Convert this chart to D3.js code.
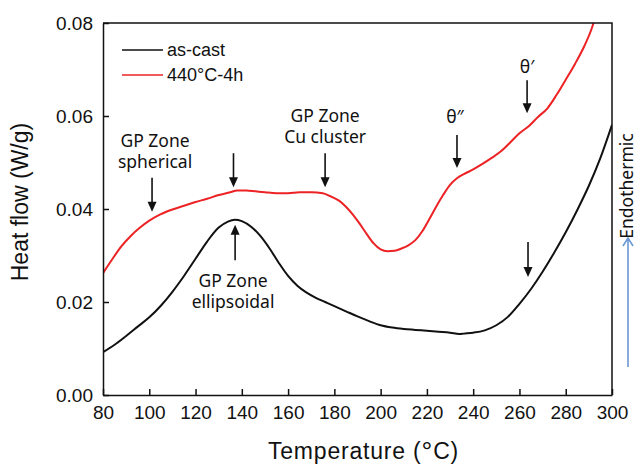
<!DOCTYPE html>
<html>
<head>
<meta charset="utf-8">
<script src="https://cdn.jsdelivr.net/npm/d3@7"></script>
<style>
  body { margin: 0; background: #fff; }
  svg { display: block; }
  .axis text { font-family: 'Liberation Sans', Arial, sans-serif; font-size: 19px; fill: #111; }
  .axis path, .axis line { stroke: #111; stroke-width: 1.5; }
  .title { font-family: 'Liberation Sans', Arial, sans-serif; font-size: 23px; fill: #111; }
  .legend { font-family: 'Liberation Sans', Arial, sans-serif; font-size: 18px; fill: #111; }
  .note { font-family: 'Noto Sans', sans-serif; font-size: 17.5px; fill: #111; }
</style>
</head>
<body>
<div id="vis"></div>
<script>
const FRAME_WIDTH = 638;
const FRAME_HEIGHT = 469;
const MARGINS = { left: 103, right: 26, top: 23, bottom: 74 };

// as-cast curve
const asCastTemp = [80, 85, 90, 95, 100, 105, 110, 115, 120, 125, 130, 134, 137, 140, 144, 148, 152, 156, 160,
  164, 168, 172, 176, 180, 185, 190, 195, 200, 205, 210, 215, 220, 225, 230, 234, 236, 240, 245, 250, 255, 260,
  265, 270, 275, 280, 285, 290, 295, 300];
const asCastFlow = [0.0092, 0.0108, 0.0127, 0.0147, 0.0167, 0.0192, 0.0222, 0.0256, 0.0293, 0.0330, 0.0360,
  0.0373, 0.0377, 0.0374, 0.0362, 0.0342, 0.0315, 0.0284, 0.0256, 0.0235, 0.0220, 0.0209, 0.0200, 0.0191,
  0.0180, 0.0169, 0.0159, 0.0150, 0.0145, 0.0142, 0.0140, 0.0138, 0.0136, 0.0134, 0.0131, 0.0132, 0.0134,
  0.0139, 0.0150, 0.0168, 0.0196, 0.0228, 0.0265, 0.0306, 0.0350, 0.0398, 0.0450, 0.0510, 0.0581];

// 440C-4h curve
const agedTemp = [80, 84, 88, 92, 96, 100, 105, 110, 115, 120, 125, 130, 135, 138, 142, 146, 150, 155, 160, 165,
  170, 175, 178, 182, 185, 188, 191, 194, 197, 200, 203, 206, 209, 212, 215, 218, 221, 224, 227, 230, 233, 236,
  240, 244, 248, 252, 256, 260, 264, 268, 272, 276, 280, 284, 288, 291, 293];
const agedFlow = [0.0262, 0.0292, 0.0320, 0.0342, 0.0360, 0.0375, 0.0389, 0.0399, 0.0407, 0.0415, 0.0422,
  0.0430, 0.0436, 0.0440, 0.0440, 0.0438, 0.0436, 0.0434, 0.0434, 0.0436, 0.0436, 0.0434, 0.0428, 0.0418,
  0.0405, 0.0388, 0.0368, 0.0346, 0.0326, 0.0313, 0.0309, 0.0310, 0.0315, 0.0322, 0.0333, 0.0352, 0.0378,
  0.0405, 0.0430, 0.0452, 0.0466, 0.0475, 0.0485, 0.0497, 0.0510, 0.0524, 0.0543, 0.0563, 0.0578, 0.0598,
  0.0616, 0.0645, 0.0678, 0.0712, 0.0750, 0.0785, 0.0815];

const xTicks = [80, 100, 120, 140, 160, 180, 200, 220, 240, 260, 280, 300];
const yTicks = [0, 0.02, 0.04, 0.06, 0.08];

const seriesNames = ['as-cast', '440°C-4h'];
const seriesColors = ['#111111', '#ec2224'];

// arrows: temperature, tail flow, head flow
const arrowTemp = [101.2, 136.4, 137.1, 176, 233, 263.3, 263.7];
const arrowFrom = [0.0467, 0.0520, 0.0290, 0.0520, 0.0559, 0.0677, 0.0329];
const arrowTo = [0.0394, 0.0447, 0.0366, 0.0447, 0.0488, 0.0606, 0.0254];

// labels: temperature, flow (first line centre), lines
const noteTemp = [102.5, 136.2, 176, 232.1, 263.3];
const noteFlow = [0.0546, 0.0245, 0.0600, 0.0598, 0.0705];
const noteText = [['GP Zone', 'spherical'], ['GP Zone', 'ellipsoidal'], ['GP Zone', 'Cu cluster'], ['θ″'], ['θ′']];

function buildChart() {
  const VIS_WIDTH = FRAME_WIDTH - MARGINS.left - MARGINS.right;
  const VIS_HEIGHT = FRAME_HEIGHT - MARGINS.top - MARGINS.bottom;

  const FRAME = d3.select('#vis')
    .append('svg')
    .attr('width', FRAME_WIDTH)
    .attr('height', FRAME_HEIGHT);

  const X_SCALE = d3.scaleLinear().domain([80, 300]).range([0, VIS_WIDTH]);
  const Y_SCALE = d3.scaleLinear().domain([0, 0.08]).range([VIS_HEIGHT, 0]);

  const G = FRAME.append('g')
    .attr('transform', 'translate(' + MARGINS.left + ',' + MARGINS.top + ')');

  G.append('clipPath').attr('id', 'clip')
    .append('rect').attr('width', VIS_WIDTH).attr('height', VIS_HEIGHT);

  // curves
  const line = d3.line()
    .x((d) => X_SCALE(d[0]))
    .y((d) => Y_SCALE(d[1]))
    .curve(d3.curveMonotoneX);

  const series = [d3.zip(asCastTemp, asCastFlow), d3.zip(agedTemp, agedFlow)];

  G.append('g').attr('clip-path', 'url(#clip)')
    .selectAll('path')
    .data(series)
    .enter()
    .append('path')
    .attr('d', line)
    .attr('fill', 'none')
    .attr('stroke', (d, i) => seriesColors[i])
    .attr('stroke-width', 2);

  // axes, ticks pointing inward
  G.append('g')
    .attr('class', 'axis')
    .attr('transform', 'translate(0,' + VIS_HEIGHT + ')')
    .call(d3.axisBottom(X_SCALE).tickValues(xTicks).tickSizeInner(-6).tickSizeOuter(0).tickPadding(11));

  G.append('g')
    .attr('class', 'axis')
    .call(d3.axisLeft(Y_SCALE).tickValues(yTicks).tickFormat(d3.format('.2f'))
      .tickSizeInner(-6).tickSizeOuter(0).tickPadding(10));

  // top and right border
  G.append('path')
    .attr('d', 'M0,0H' + VIS_WIDTH + 'V' + VIS_HEIGHT)
    .attr('fill', 'none')
    .attr('stroke', '#111')
    .attr('stroke-width', 1.5);

  // axis titles
  const xTitle = FRAME.append('text')
    .attr('class', 'title')
    .attr('x', MARGINS.left + X_SCALE(192.6))
    .attr('y', 459)
    .attr('letter-spacing', '0.8px')
    .attr('text-anchor', 'middle');
  xTitle.append('tspan').text('Temperature (');
  xTitle.append('tspan').attr('font-size', '27px').attr('dy', 2).text('°');
  xTitle.append('tspan').attr('dy', -2).text('C)');

  FRAME.append('text')
    .attr('class', 'title')
    .attr('transform', 'translate(28,' + (MARGINS.top + Y_SCALE(0.0415)) + ') rotate(-90)')
    .attr('text-anchor', 'middle')
    .attr('font-size', '24px')
    .text('Heat flow (W/g)');

  // legend
  const legend = G.append('g').selectAll('g')
    .data(seriesNames)
    .enter()
    .append('g')
    .attr('transform', (d, i) => 'translate(19,' + (27 + i * 25) + ')');
  legend.append('line')
    .attr('x1', 0).attr('x2', 41)
    .attr('stroke', (d, i) => seriesColors[i])
    .attr('stroke-width', 1.6);
  legend.append('text')
    .attr('class', 'legend')
    .attr('x', 45)
    .attr('dy', '0.35em')
    .text((d) => d);

  // arrows
  arrowTemp.forEach((t, i) => {
    const x = X_SCALE(t);
    const y1 = Y_SCALE(arrowFrom[i]);
    const y2 = Y_SCALE(arrowTo[i]);
    const dir = y2 > y1 ? 1 : -1;
    G.append('line')
      .attr('x1', x).attr('x2', x)
      .attr('y1', y1).attr('y2', y2 - dir * 8)
      .attr('stroke', '#111')
      .attr('stroke-width', 1.6);
    G.append('path')
      .attr('d', 'M' + (x - 4.5) + ',' + (y2 - dir * 10) + 'L' + (x + 4.5) + ',' + (y2 - dir * 10) + 'L' + x + ',' + y2 + 'Z')
      .attr('fill', '#111');
  });

  // annotation labels
  noteText.forEach((lines, i) => {
    const text = G.append('text')
      .attr('class', 'note')
      .attr('x', X_SCALE(noteTemp[i]))
      .attr('y', Y_SCALE(noteFlow[i]))
      .attr('text-anchor', 'middle');
    lines.forEach((s, j) => {
      text.append('tspan')
        .attr('x', X_SCALE(noteTemp[i]))
        .attr('dy', j === 0 ? '0.35em' : 21)
        .text(s);
    });
  });

  // endothermic marker on the right
  FRAME.append('text')
    .attr('class', 'note')
    .attr('font-size', '13px')
    .attr('transform', 'translate(633,186) rotate(-90)')
    .attr('text-anchor', 'middle')
    .text('Endothermic');

  FRAME.append('path')
    .attr('d', 'M628,367V238M623,246L628,238L633,246')
    .attr('fill', 'none')
    .attr('stroke', '#6b98d2')
    .attr('stroke-width', 1.6);
}

buildChart();
</script>
</body>
</html>
